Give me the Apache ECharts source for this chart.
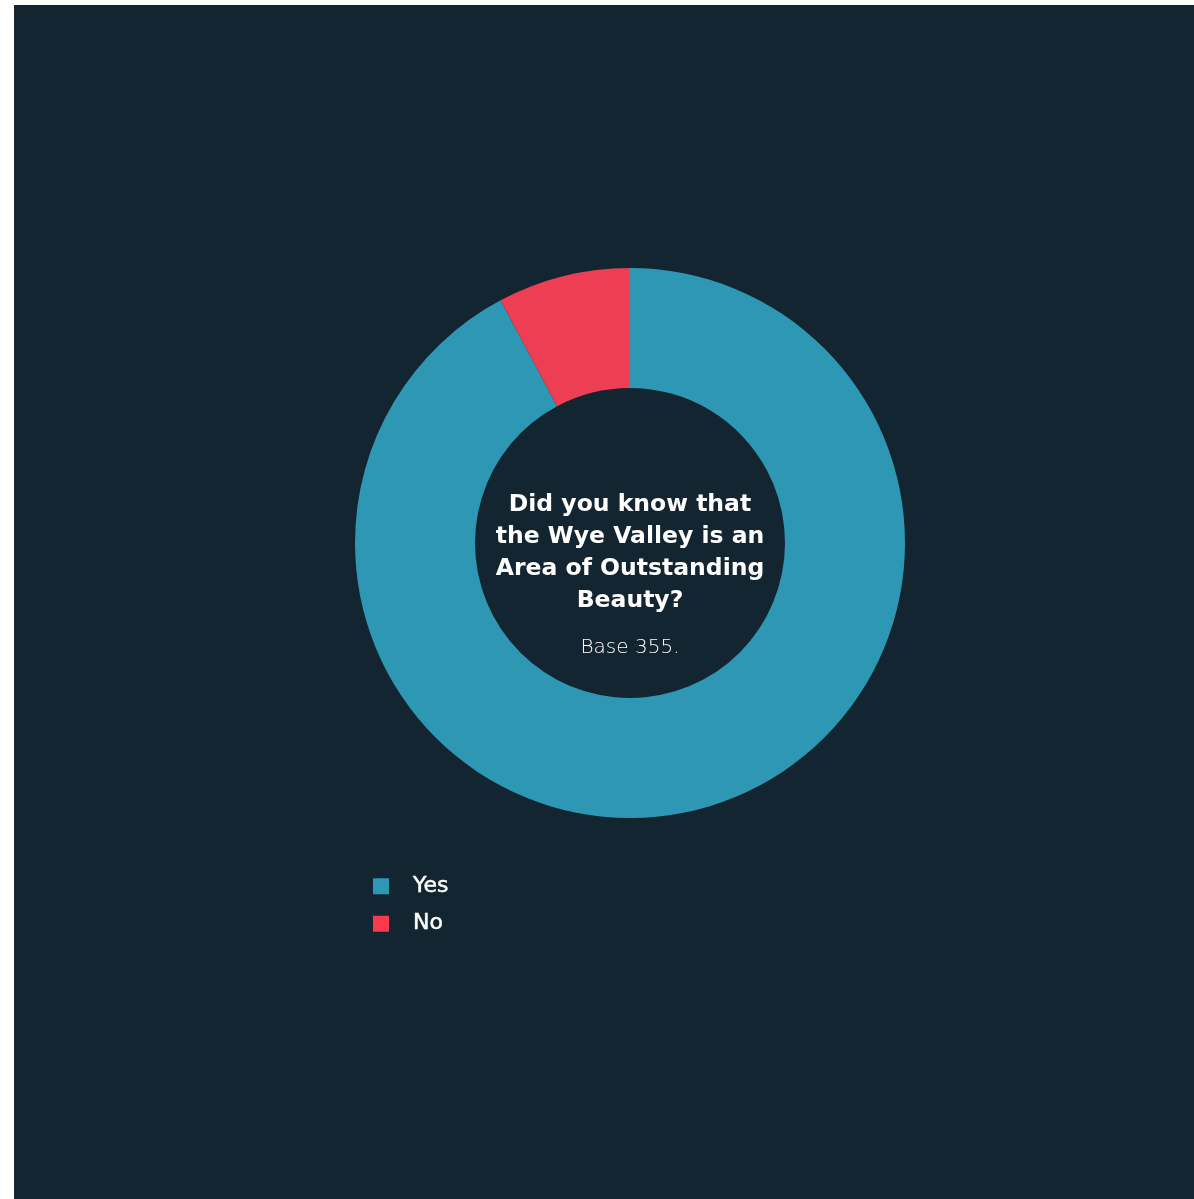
<!DOCTYPE html>
<html>
<head>
<meta charset="utf-8">
<title>Wye Valley AONB awareness</title>
<script src="https://cdn.jsdelivr.net/npm/echarts@6/dist/echarts.min.js"></script>
<style>
  html, body { margin: 0; padding: 0; background: #ffffff; }
  #chart { position: absolute; left: 14px; top: 5px; width: 1180px; height: 1194px; background: #132530; }
</style>
</head>
<body>
<div id="chart"></div>
<script>
// Survey answers (share of respondents, %)
const categories = ['Yes', 'No'];
const shares = [92.2, 7.8];
const sliceColors = ['#2e98b4', '#ed3e53'];
const legendColors = ['#2e98b4', '#f93a4e'];
const question = 'Did you know that\nthe Wye Valley is an\nArea of Outstanding\nBeauty?';
const baseNote = 'Base 355.';

const chart = echarts.init(document.getElementById('chart'));

const fontFamily = '"DejaVu Sans", sans-serif';

chart.setOption({
  backgroundColor: '#132530',
  animation: false,
  title: {
    text: question,
    subtext: baseNote,
    left: 611,
    top: 479,
    textAlign: 'center',
    itemGap: 21,
    textStyle: {
      color: '#ffffff',
      fontFamily: fontFamily,
      fontWeight: 'bold',
      fontSize: 23.5,
      lineHeight: 32
    },
    subtextStyle: {
      color: '#ffffff',
      fontFamily: fontFamily,
      fontWeight: 200,
      fontSize: 20
    }
  },
  legend: {
    orient: 'vertical',
    left: 354,
    top: 865,
    itemWidth: 16,
    itemHeight: 16,
    itemGap: 15,
    icon: 'rect',
    data: categories.map((name, i) => ({ name, itemStyle: { color: legendColors[i] } })),
    textStyle: {
      color: '#ffffff',
      fontFamily: fontFamily,
      fontSize: 22,
      textBorderColor: '#ffffff',
      textBorderWidth: 0.5,
      padding: [0, 0, 0, 19]
    }
  },
  series: [{
    type: 'pie',
    center: [616, 538],
    radius: [155, 275],
    startAngle: 90,
    clockwise: true,
    label: { show: false },
    labelLine: { show: false },
    emphasis: { disabled: true },
    data: categories.map((name, i) => ({
      name,
      value: shares[i],
      itemStyle: { color: sliceColors[i] }
    }))
  }]
});
</script>
</body>
</html>
